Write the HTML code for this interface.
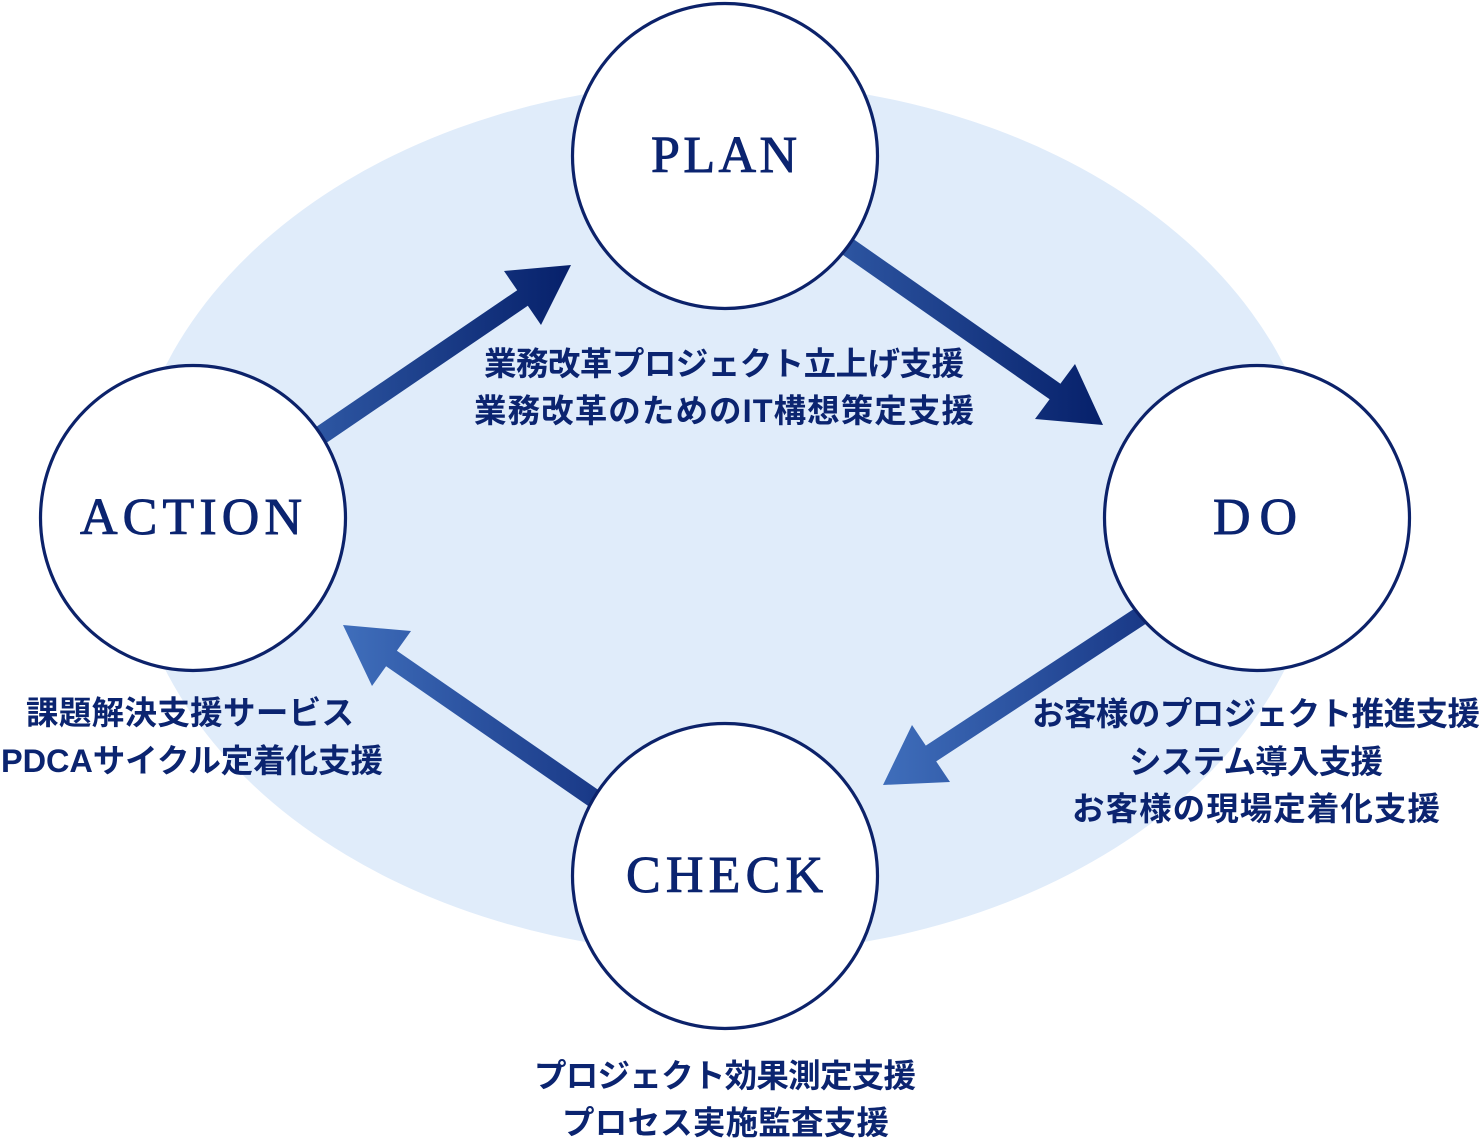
<!DOCTYPE html>
<html>
<head>
<meta charset="utf-8">
<style>
  html,body{margin:0;padding:0;background:#ffffff;}
  body{width:1479px;height:1147px;overflow:hidden;}
  svg{display:block;}
  .serif{font-family:"Liberation Serif","Noto Serif CJK SC",serif;font-size:52px;fill:#0b2470;stroke:#0b2470;stroke-width:0.9px;}
  .jp{font-family:"Liberation Sans","Noto Sans CJK JP",sans-serif;font-size:32.5px;font-weight:bold;fill:#0b2470;}
</style>
</head>
<body>
<svg width="1479" height="1147" viewBox="0 0 1479 1147" xmlns="http://www.w3.org/2000/svg">
  <defs>
    <linearGradient id="g1" gradientUnits="userSpaceOnUse" x1="320" y1="0" x2="571" y2="0">
      <stop offset="0" stop-color="#2d56a2"/>
      <stop offset="1" stop-color="#06206a"/>
    </linearGradient>
    <linearGradient id="g2" gradientUnits="userSpaceOnUse" x1="848" y1="0" x2="1103" y2="0">
      <stop offset="0" stop-color="#2c54a0"/>
      <stop offset="1" stop-color="#06206a"/>
    </linearGradient>
    <linearGradient id="g3" gradientUnits="userSpaceOnUse" x1="883" y1="0" x2="1140" y2="0">
      <stop offset="0" stop-color="#3f6ebb"/>
      <stop offset="1" stop-color="#1a3a88"/>
    </linearGradient>
    <linearGradient id="g4" gradientUnits="userSpaceOnUse" x1="343" y1="0" x2="592" y2="0">
      <stop offset="0" stop-color="#3f6ebb"/>
      <stop offset="1" stop-color="#1a3a88"/>
    </linearGradient>
  </defs>

  <!-- background ellipse -->
  <ellipse cx="725" cy="518" rx="597" ry="436" fill="#e0ecfa"/>

  <!-- Arrow 1: ACTION -> PLAN -->
  <polygon fill="url(#g1)" points="294.2,441.9 517.2,290.2 504,271 571,265 541,325 527.8,305.8 304.8,457.6"/>

  <!-- Arrow 2: PLAN -> DO -->
  <polygon fill="url(#g2)" points="814.4,211.8 1060.4,383.7 1075,364 1103,425 1035,419 1049.6,399.3 803.6,227.4"/>

  <!-- Arrow 3: DO -> CHECK -->
  <polygon fill="url(#g3)" points="1187.0,596.7 936.2,761.4 950,782 883,785 912,725 925.8,745.6 1176.6,580.9"/>

  <!-- Arrow 4: CHECK -> ACTION -->
  <polygon fill="url(#g4)" points="668.5,838.4 396.9,650.7 411,631 343,625 372,686 386.1,666.3 657.7,854.0"/>

  <!-- circles -->
  <circle cx="725" cy="156" r="152.5" fill="#ffffff" stroke="#0c226a" stroke-width="3.2"/>
  <circle cx="193" cy="518" r="152.5" fill="#ffffff" stroke="#0c226a" stroke-width="3.2"/>
  <circle cx="1257" cy="518" r="152.5" fill="#ffffff" stroke="#0c226a" stroke-width="3.2"/>
  <circle cx="725" cy="876" r="152.5" fill="#ffffff" stroke="#0c226a" stroke-width="3.2"/>

  <!-- circle labels -->
  <text class="serif" x="724" y="172" text-anchor="middle" textLength="146" lengthAdjust="spacing">PLAN</text>
  <text class="serif" x="191" y="534" text-anchor="middle" textLength="222" lengthAdjust="spacing">ACTION</text>
  <text class="serif" x="1255" y="534" text-anchor="middle" textLength="84" lengthAdjust="spacing">DO</text>
  <text class="serif" x="724.5" y="892" text-anchor="middle" textLength="197" lengthAdjust="spacing">CHECK</text>

  <!-- PLAN labels -->
  <text class="jp" x="724" y="375" text-anchor="middle" textLength="480" lengthAdjust="spacing">業務改革プロジェクト立上げ支援</text>
  <text class="jp" x="724" y="422" text-anchor="middle" textLength="500" lengthAdjust="spacing">業務改革のためのIT構想策定支援</text>

  <!-- ACTION labels -->
  <text class="jp" x="190" y="724" text-anchor="middle" textLength="328" lengthAdjust="spacing">課題解決支援サービス</text>
  <text class="jp" x="192" y="772" text-anchor="middle" textLength="382" lengthAdjust="spacing">PDCAサイクル定着化支援</text>

  <!-- DO labels -->
  <text class="jp" x="1256" y="725" text-anchor="middle" textLength="448" lengthAdjust="spacing">お客様のプロジェクト推進支援</text>
  <text class="jp" x="1256" y="773" text-anchor="middle" textLength="254" lengthAdjust="spacing">システム導入支援</text>
  <text class="jp" x="1256" y="820" text-anchor="middle" textLength="368" lengthAdjust="spacing">お客様の現場定着化支援</text>

  <!-- CHECK labels -->
  <text class="jp" x="725" y="1087" text-anchor="middle" textLength="382" lengthAdjust="spacing">プロジェクト効果測定支援</text>
  <text class="jp" x="725.5" y="1134" text-anchor="middle" textLength="327" lengthAdjust="spacing">プロセス実施監査支援</text>
</svg>
</body>
</html>
